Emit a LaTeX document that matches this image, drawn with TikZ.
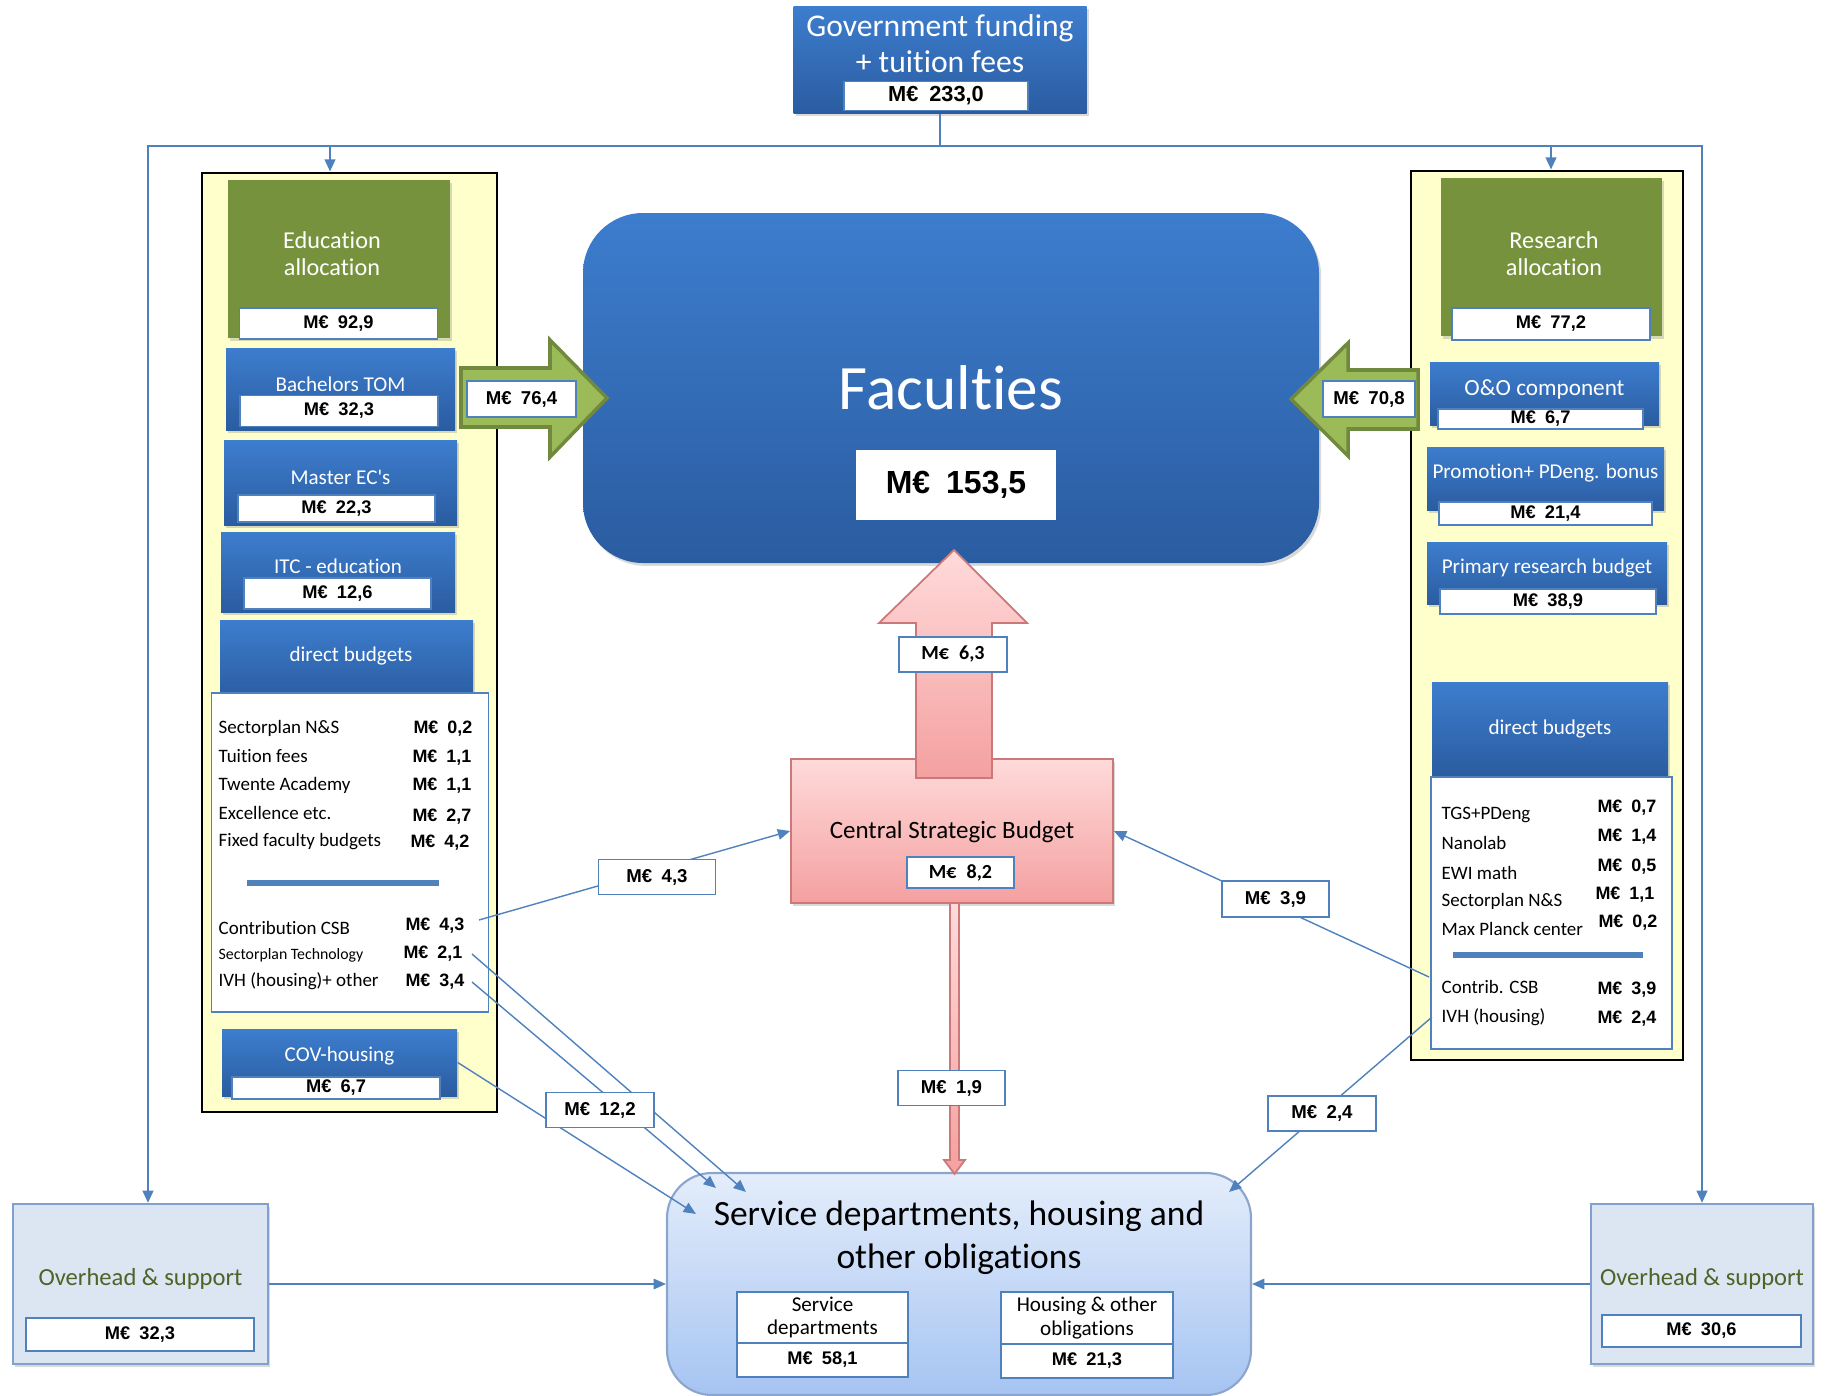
\documentclass[tikz,border=0pt]{standalone}
\usepackage{fontspec}
\setmainfont{Carlito}[Ligatures=NoCommon]
\newfontfamily\arialfont{Liberation Sans}
\usepackage{xcolor}
\usetikzlibrary{arrows.meta,positioning,calc,shadows}

\definecolor{offblue}{RGB}{79,129,189}
\definecolor{boxtop}{RGB}{61,125,206}
\definecolor{boxbot}{RGB}{42,92,160}
\definecolor{olivebox}{RGB}{118,146,60}
\definecolor{arrowgreen}{RGB}{155,187,89}
\definecolor{arrowedge}{RGB}{113,137,63}
\definecolor{panelyellow}{RGB}{255,255,204}
\definecolor{csbtop}{RGB}{255,218,218}
\definecolor{csbbot}{RGB}{244,160,160}
\definecolor{csbedge}{RGB}{205,120,120}
\definecolor{servtop}{RGB}{228,237,251}
\definecolor{servbot}{RGB}{166,196,242}
\definecolor{servedge}{RGB}{140,165,205}
\definecolor{ovfill}{RGB}{220,230,242}
\definecolor{ovedge}{RGB}{130,160,205}
\definecolor{ovtext}{RGB}{79,98,40}

\newcommand{\me}[1]{M€\hspace{0.5em}#1}

\begin{document}
\begin{tikzpicture}[
    x=0.1mm, y=-0.1mm,
    every node/.style={inner sep=0pt},
    shad/.style={drop shadow={opacity=.3, shadow xshift=.6pt, shadow yshift=-.8pt}},
    panel/.style={rectangle, draw=black, line width=0.8pt, fill=panelyellow},
    bluebox/.style={rectangle, top color=boxtop, bottom color=boxbot, shad},
    greenbox/.style={rectangle, fill=olivebox, shad},
    boxtxt/.style={text=white, align=center, font=\fontsize{6}{7.2}\selectfont},
    valbox/.style={rectangle, draw=offblue, line width=.4pt, fill=white,
                   font=\arialfont\bfseries\fontsize{5.2}{6}\selectfont},
    listbox/.style={rectangle, draw=offblue, line width=.4pt, fill=white},
    item/.style={anchor=west, font=\fontsize{5.4}{6.5}\selectfont},
    itemval/.style={anchor=east, font=\arialfont\bfseries\fontsize{5.1}{6}\selectfont},
    sepline/.style={draw=offblue, line width=1.8pt},
    tag/.style={valbox, minimum width=10.8mm, minimum height=3.5mm,
                font=\arialfont\bfseries\fontsize{5.3}{6}\selectfont},
    ctag/.style={tag, font=\bfseries\fontsize{5.7}{6.5}\selectfont},
    subbox/.style={rectangle, draw=offblue, line width=.4pt, fill=white,
                   align=center, font=\fontsize{6}{6.6}\selectfont},
    ovbox/.style={rectangle, fill=ovfill, draw=ovedge, line width=.6pt, shad},
    ovtxt/.style={text=ovtext, font=\fontsize{7}{8.4}\selectfont},
    garrow/.style={fill=arrowgreen, draw=arrowedge, line width=1pt},
    parrow/.style={top color=csbtop, bottom color=csbbot, draw=csbedge, line width=.5pt},
    flow/.style={draw=offblue, line width=.4pt, -{Triangle[length=3.5pt,width=3pt]}},
    trunk/.style={draw=offblue, line width=.7pt},
]
\useasboundingbox (0,0) rectangle (1828,1396);

% Panels
\node[panel, minimum width=29.5mm, minimum height=93.9mm] (lpanel) at (349.5,642.5) {};
\node[panel, minimum width=27.2mm, minimum height=88.9mm] (rpanel) at (1547,615.5) {};

% Government funding
\node[bluebox, minimum width=29.3mm, minimum height=10.7mm] (govt) at (940,60) {};
\node[boxtxt, font=\fontsize{9}{10.3}\selectfont] (govtT) at (940,44) {Government funding\\+ tuition fees};
\node[valbox, minimum width=18.4mm, minimum height=2.9mm,
      font=\arialfont\bfseries\fontsize{6.2}{7}\selectfont] (govtV) at (936,96) {\me{233,0}};

% Education side
\node[greenbox, minimum width=22.2mm, minimum height=15.8mm] (edu) at (339,259) {};
\node[boxtxt, font=\fontsize{6.9}{7.7}\selectfont] (eduT) at (332,254) {Education\\allocation};
\node[valbox, minimum width=19.8mm, minimum height=3.1mm] (eduV) at (338.5,323.5) {\me{92,9}};

\node[bluebox, minimum width=22.9mm, minimum height=8.2mm] (bach) at (340.5,389) {};
\node[boxtxt] (bachT) at (340.5,384) {Bachelors TOM};
\node[valbox, minimum width=19.8mm, minimum height=3.1mm] (bachV) at (339,411) {\me{32,3}};

\node[bluebox, minimum width=23.3mm, minimum height=8.5mm] (mast) at (340.5,482.5) {};
\node[boxtxt] (mastT) at (340.5,477) {Master EC\textquotesingle s};
\node[valbox, minimum width=19.7mm, minimum height=2.7mm] (mastV) at (336.5,508.5) {\me{22,3}};

\node[bluebox, minimum width=23.4mm, minimum height=8mm] (itc) at (338,572) {};
\node[boxtxt] (itcT) at (338,566) {ITC - education};
\node[valbox, minimum width=18.7mm, minimum height=3.1mm] (itcV) at (337.5,593.5) {\me{12,6}};

\node[bluebox, minimum width=25.3mm, minimum height=8mm] (dbl) at (346.5,660) {};
\node[boxtxt] (dblT) at (351,656) {direct budgets};
\node[listbox, minimum width=27.7mm, minimum height=31.9mm] (listl) at (350,852.5) {};

\node[item] (sl1) at (218,728) {Sectorplan N\&S};
\node[item] (sl2) at (218,756) {Tuition fees};
\node[item] (sl3) at (218,785) {Twente Academy};
\node[item] (sl4) at (218,813) {Excellence etc.};
\node[item] (sl5) at (218,842) {Fixed faculty budgets};
\node[itemval] (vl1) at (473,729) {\me{0,2}};
\node[itemval] (vl2) at (472,758) {\me{1,1}};
\node[itemval] (vl3) at (472,786) {\me{1,1}};
\node[itemval] (vl4) at (472,817) {\me{2,7}};
\node[itemval] (vl5) at (470,843) {\me{4,2}};
\draw[sepline] (247,883) -- (439,883);
\node[item] (sl6) at (218,928) {Contribution CSB};
\node[item, font=\fontsize{4.5}{5.5}\selectfont] (sl7) at (218,955) {Sectorplan Technology};
\node[item] (sl8) at (218,981) {IVH (housing)+ other};
\node[itemval] (vl6) at (465,926) {\me{4,3}};
\node[itemval] (vl7) at (463,954) {\me{2,1}};
\node[itemval] (vl8) at (465,982) {\me{3,4}};

\node[bluebox, minimum width=23.5mm, minimum height=6.7mm] (cov) at (339.5,1062.5) {};
\node[boxtxt] (covT) at (339.5,1056) {COV-housing};
\node[valbox, minimum width=20.8mm, minimum height=2.2mm] (covV) at (336,1088) {\me{6,7}};

% Research side
\node[greenbox, minimum width=22.1mm, minimum height=15.8mm] (res) at (1551.5,257) {};
\node[boxtxt, font=\fontsize{6.9}{7.7}\selectfont] (resT) at (1554,254) {Research\\allocation};
\node[valbox, minimum width=19.8mm, minimum height=3.2mm] (resV) at (1551,324) {\me{77,2}};

\node[bluebox, minimum width=22.9mm, minimum height=6.3mm] (oo) at (1544.5,393.5) {};
\node[boxtxt, font=\fontsize{6.6}{8}\selectfont] (ooT) at (1544.5,389) {O\&O component};
\node[valbox, minimum width=20.5mm, minimum height=2mm] (ooV) at (1540.5,419) {\me{6,7}};

\node[bluebox, minimum width=23.7mm, minimum height=6.3mm] (promo) at (1545.5,478.5) {};
\node[boxtxt] (promoT) at (1545.5,473) {Promotion+ PDeng. bonus};
\node[valbox, minimum width=21.3mm, minimum height=2.3mm] (promoV) at (1545.5,513.5) {\me{21,4}};

\node[bluebox, minimum width=24mm, minimum height=6.2mm] (prim) at (1547,573) {};
\node[boxtxt] (primT) at (1547,568) {Primary research budget};
\node[valbox, minimum width=21.6mm, minimum height=2.5mm] (primV) at (1548,601.5) {\me{38,9}};

\node[bluebox, minimum width=23.6mm, minimum height=9.5mm] (dbr) at (1550,729.5) {};
\node[boxtxt] (dbrT) at (1550,729) {direct budgets};
\node[listbox, minimum width=24.1mm, minimum height=27.2mm] (listr) at (1551.5,913) {};

\node[item] (sr1) at (1441,815) {TGS+PDeng};
\node[item] (sr2) at (1441,843) {Nanolab};
\node[item] (sr3) at (1441,873) {EWI math};
\node[item] (sr4) at (1441,901) {Sectorplan N\&S};
\node[item] (sr5) at (1441,929) {Max Planck center};
\node[itemval] (vr1) at (1657,808) {\me{0,7}};
\node[itemval] (vr2) at (1657,837) {\me{1,4}};
\node[itemval] (vr3) at (1657,867) {\me{0,5}};
\node[itemval] (vr4) at (1655,895) {\me{1,1}};
\node[itemval] (vr5) at (1658,923) {\me{0,2}};
\draw[sepline] (1453,955) -- (1643,955);
\node[item] (sr6) at (1441,987) {Contrib. CSB};
\node[item] (sr7) at (1441,1017) {IVH (housing)};
\node[itemval] (vr6) at (1657,990) {\me{3,9}};
\node[itemval] (vr7) at (1657,1019) {\me{2,4}};

% Faculties
\node[rectangle, rounded corners=6mm, top color=boxtop, bottom color=boxbot, shad,
      minimum width=73.6mm, minimum height=35mm] (fac) at (951,388) {};
\node[boxtxt, font=\fontsize{18}{20}\selectfont] (facT) at (951,388) {Facult\kern0pt ies};
\node[valbox, draw=white, minimum width=19.8mm, minimum height=6.8mm,
      font=\arialfont\bfseries\fontsize{9.1}{11}\selectfont] (facV) at (956,485) {\me{153,5}};

% Big arrows into the faculties
\filldraw[garrow] (461,368) -- (550,368) -- (550,340) -- (607,398) -- (550,457) -- (550,427) -- (461,427) -- cycle;
\node[tag, minimum width=10.9mm, minimum height=3.6mm] (eduFlow) at (521.5,399) {\me{76,4}};
\filldraw[garrow] (1418,370) -- (1348,370) -- (1348,343) -- (1291,399) -- (1348,456) -- (1348,429) -- (1418,429) -- cycle;
\node[tag, minimum width=9.2mm, minimum height=3.6mm] (resFlow) at (1369,399) {\me{70,8}};

% Central Strategic Budget
\node[rectangle, top color=csbtop, bottom color=csbbot, draw=csbedge, line width=.5pt, shad,
      minimum width=32.2mm, minimum height=14.4mm] (csb) at (952,831) {};
\node[font=\fontsize{7.1}{8.4}\selectfont] (csbT) at (952,832) {Central Strategic Budget};
\node[valbox, minimum width=10.7mm, minimum height=3.1mm,
      font=\bfseries\fontsize{5.7}{6.5}\selectfont] (csbV) at (960.5,872.5) {\me{8,2}};

\path[parrow] (916,778) -- (916,623) -- (879,623) -- (954,550) -- (1027,623) -- (992,623) -- (992,778) -- cycle;
\node[ctag, minimum width=10.8mm, minimum height=3.5mm] (csbUp) at (953,654.5) {\me{6,3}};

% Service departments
\node[rectangle, rounded corners=4.5mm, top color=servtop, bottom color=servbot, draw=servedge,
      line width=.6pt, minimum width=58.4mm, minimum height=22.2mm] (serv) at (959,1284) {};
\node[align=center, font=\fontsize{10.1}{12.3}\selectfont] (servT) at (959,1238) {Service departments, housing and\\other obligations};
\node[subbox, minimum width=17.1mm, minimum height=5.1mm] (sdN) at (822.5,1317.5) {Service\\departments};
\node[subbox, minimum width=17.1mm, minimum height=3.4mm,
      font=\arialfont\bfseries\fontsize{5.2}{6}\selectfont] (sdV) at (822.5,1360) {\me{58,1}};
\node[subbox, minimum width=17.2mm, minimum height=5.2mm] (hoN) at (1087,1318) {Housing \& other\\obligations};
\node[subbox, minimum width=17.2mm, minimum height=3.4mm,
      font=\arialfont\bfseries\fontsize{5.2}{6}\selectfont] (hoV) at (1087,1361) {\me{21,3}};

\path[parrow] (950,903) -- (950,1160) -- (944,1160) -- (954.5,1174) -- (965,1160) -- (959,1160) -- (959,903) -- cycle;
\node[tag, minimum width=10.7mm, minimum height=3.5mm] (csbDown) at (951.5,1088) {\me{1,9}};

% Overhead
\node[ovbox, minimum width=25.5mm, minimum height=16mm] (ovl) at (140.5,1284) {};
\node[ovtxt] (ovlT) at (140.5,1279) {Overhead \& support};
\node[valbox, minimum width=22.8mm, minimum height=3.3mm] (ovlV) at (140,1334.5) {\me{32,3}};
\node[ovbox, minimum width=22.2mm, minimum height=16mm] (ovr) at (1702,1284) {};
\node[ovtxt] (ovrT) at (1702,1279) {Overhead \& support};
\node[valbox, minimum width=19.9mm, minimum height=3.2mm] (ovrV) at (1701.5,1331) {\me{30,6}};

% Distribution from government funding
\coordinate (split) at (govt.south |- 0,146);
\draw[trunk] (govt.south) -- (split);
\draw[trunk, -{Triangle[length=3.5pt,width=3pt]}] (split) -| ([xshift=.75mm]ovl.north);
\draw[trunk, -{Triangle[length=3.5pt,width=3pt]}] (split) -| (ovr.north);
\draw[trunk, -{Triangle[length=3.5pt,width=3pt]}] (split) -| ([xshift=-1.95mm]lpanel.north);
\draw[trunk, -{Triangle[length=3.5pt,width=3pt]}] (split) -| ([xshift=.4mm]rpanel.north);

% Arrows
\draw[flow] (ovl.east) -- (serv.west);
\draw[flow] (ovr.west) -- (serv.east);
\draw[flow] ([xshift=1.4mm,yshift=.6mm]vl6.east) -- (csb.west);
\node[tag, minimum width=11.7mm] (csbInL) at (657,877) {\me{4,3}};
\draw[flow] ([xshift=-1.2mm,yshift=1mm]sr6.west) -- (csb.east);
\node[tag, minimum width=10.7mm, minimum height=3.6mm] (csbInR) at (1275.5,899) {\me{3,9}};
\draw[flow] ([xshift=.9mm]vl7.east) -- ($(serv.north west)+(80,20)$);
\draw[flow] ([xshift=.7mm]vl8.east) -- ($(serv.north west)+(50,16)$);
\draw[flow] (cov.east) -- ($(serv.north west)+(30,42)$);
\node[tag] (servInL) at (600,1110) {\me{12,2}};
\draw[flow] ([xshift=-.9mm]sr7.west) -- ($(serv.north east)+(-23,20)$);
\node[tag] (servInR) at (1322,1113.5) {\me{2,4}};
\end{tikzpicture}
\end{document}
